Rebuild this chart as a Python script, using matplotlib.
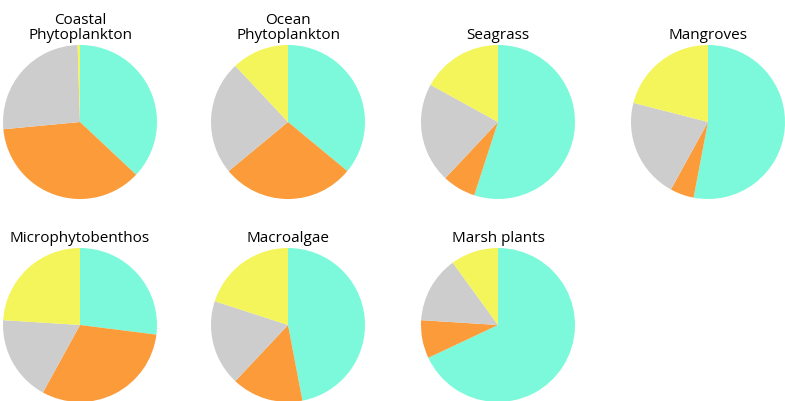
import matplotlib.pyplot as plt

titles = ["Coastal\nPhytoplankton", "Ocean\nPhytoplankton", "Seagrass", "Mangroves",
          "Microphytobenthos", "Macroalgae", "Marsh plants"]
cyan_share = [37, 36, 55, 53, 27, 47, 68]
orange_share = [36.5, 28, 7, 5, 31, 15, 8]
grey_share = [26, 24, 21, 21, 18, 18, 14]
yellow_share = [0.5, 12, 17, 21, 24, 20, 10]
colors = ["#7bf9da", "#fb9b3a", "#cdcdcd", "#f4f55b"]

centers_x = [80, 288, 498, 708, 80, 288, 498]
centers_y = [123, 123, 123, 123, 326, 326, 326]
R = 77

plt.rcParams['font.family'] = ['Open Sans', 'DejaVu Sans']
fig = plt.figure(figsize=(7.85, 4.02), dpi=100)
W, H = 785, 402
for i, t in enumerate(titles):
    cx, cy = centers_x[i], centers_y[i]
    ax = fig.add_axes([(cx - R) / W, (H - cy - R) / H, 2 * R / W, 2 * R / H])
    vals = [cyan_share[i], orange_share[i], grey_share[i], yellow_share[i]]
    ax.pie(vals, colors=colors, startangle=90, counterclock=False, radius=1.0)
    ax.set_xlim(-1, 1)
    ax.set_ylim(-1, 1)
    ax.set_aspect('equal')
    ax.set_title(t, fontsize=11, pad=5, linespacing=1.0)

fig.savefig("out.png", dpi=100)
